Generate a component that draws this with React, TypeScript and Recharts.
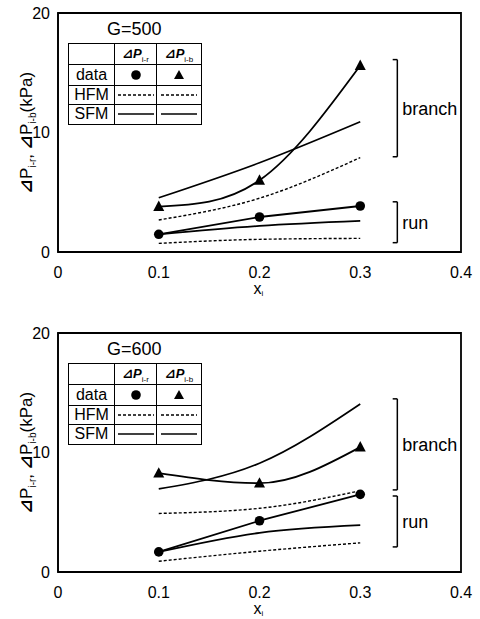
import React from "react";
import {
  LineChart,
  Line,
  XAxis,
  YAxis,
  ReferenceArea,
  ReferenceLine,
} from "recharts";

// x positions of the measured points (x_i)
const X_VALUES = [0.1, 0.2, 0.3];
const X_TICKS = [0, 0.1, 0.2, 0.3, 0.4];
const Y_TICKS = [0, 10, 20];

// G=500
const g500RunData = [1.48, 2.93, 3.85];
const g500BranchData = [3.8, 6.0, 15.6];
const g500RunHFM = [0.72, 1.06, 1.14];
const g500BranchHFM = [2.68, 4.5, 7.9];
const g500RunSFM = [1.48, 2.18, 2.6];
const g500BranchSFM = [4.54, 7.47, 10.9];
const g500BranchBracket = [7.97, 16.1];
const g500RunBracket = [0.78, 4.2];

// G=600
const g600RunData = [1.68, 4.29, 6.5];
const g600BranchData = [8.27, 7.43, 10.45];
const g600RunHFM = [0.9, 1.74, 2.44];
const g600BranchHFM = [4.9, 5.33, 6.8];
const g600RunSFM = [1.68, 3.28, 3.92];
const g600BranchSFM = [6.95, 9.1, 14.06];
const g600BranchBracket = [6.87, 14.49];
const g600RunBracket = [2.1, 6.36];

const BRACKET_X = 0.3368;
const BRACKET_END_X = 0.3322;

const FONT = "'Liberation Sans', Arial, sans-serif";
const DELTA = "\u22BF";

const toPoints = (ys: number[]) => X_VALUES.map((x, i) => ({ x, y: ys[i] }));

const CircleDot = (props: any) => {
  const { cx, cy } = props;
  if (cx == null || cy == null) return null;
  return <circle cx={cx} cy={cy} r={4.8} fill="#000" />;
};

const TriangleDot = (props: any) => {
  const { cx, cy } = props;
  if (cx == null || cy == null) return null;
  const s = 5.5;
  return (
    <polygon
      points={`${cx},${cy - s - 0.5} ${cx - s},${cy + s * 0.8} ${cx + s},${cy + s * 0.8}`}
      fill="#000"
    />
  );
};

const YLabel = (props: any) => {
  const vb = props.viewBox || {};
  const x = 32;
  const y = (vb.y ?? 13) + (vb.height ?? 239) / 2;
  return (
    <text
      x={x}
      y={y}
      transform={`rotate(-90, ${x}, ${y})`}
      textAnchor="middle"
      fontFamily={FONT}
      fontSize={17}
      fill="#000"
    >
      <tspan fontFamily="'DejaVu Sans'" fontWeight="bold">{DELTA}</tspan>
      <tspan>P</tspan>
      <tspan fontSize={10} dy={4}>i-r</tspan>
      <tspan dy={-4}>,  </tspan>
      <tspan fontFamily="'DejaVu Sans'" fontWeight="bold">{DELTA}</tspan>
      <tspan>P</tspan>
      <tspan fontSize={10} dy={4}>i-b</tspan>
      <tspan dy={-4}>(kPa)</tspan>
    </text>
  );
};

const XLabel = (props: any) => {
  const vb = props.viewBox || {};
  const x = (vb.x ?? 58) + (vb.width ?? 403) / 2 - 6;
  const y = 294;
  return (
    <text x={x} y={y} fontFamily={FONT} fontSize={16} fill="#000">
      x<tspan fontSize={8} dy={2}>i</tspan>
    </text>
  );
};

const HeaderCell = ({ sub }: { sub: string }) => (
  <span style={{ fontSize: 13, fontWeight: "bold" }}>
    <span style={{ fontFamily: "'DejaVu Sans'" }}>{DELTA}</span>
    <span style={{ fontStyle: "italic" }}>P</span>
    <sub style={{ fontSize: 8, fontWeight: "normal" }}>{sub}</sub>
  </span>
);

const LineSample = ({ dashed }: { dashed: boolean }) => (
  <svg width={36} height={6} style={{ display: "block", margin: "0 auto" }}>
    <line
      x1={0}
      y1={3}
      x2={36}
      y2={3}
      stroke="#000"
      strokeWidth={dashed ? 1.3 : 1.6}
      strokeDasharray={dashed ? "3 2" : undefined}
    />
  </svg>
);

const LegendTable = ({ title }: { title: string }) => {
  const cell: React.CSSProperties = {
    border: "1.5px solid #000",
    padding: 0,
    textAlign: "center",
    verticalAlign: "middle",
  };
  const label: React.CSSProperties = { ...cell, fontSize: 16 };
  return (
    <div style={{ position: "absolute", left: 68, top: 18, fontFamily: FONT }}>
      <div style={{ fontSize: 18, marginLeft: 39, lineHeight: "22px", height: 25 }}>{title}</div>
      <table style={{ borderCollapse: "collapse", tableLayout: "fixed" }}>
        <colgroup>
          <col style={{ width: 46 }} />
          <col style={{ width: 42 }} />
          <col style={{ width: 45 }} />
        </colgroup>
        <tbody>
          <tr style={{ height: 19 }}>
            <td style={cell}></td>
            <td style={cell}><HeaderCell sub="i-r" /></td>
            <td style={cell}><HeaderCell sub="i-b" /></td>
          </tr>
          <tr style={{ height: 21 }}>
            <td style={label}>data</td>
            <td style={cell}>
              <svg width={12} height={12} style={{ display: "block", margin: "0 auto" }}>
                <circle cx={6} cy={6} r={4.8} fill="#000" />
              </svg>
            </td>
            <td style={cell}>
              <svg width={12} height={12} style={{ display: "block", margin: "0 auto" }}>
                <polygon points="6,1 1,10 11,10" fill="#000" />
              </svg>
            </td>
          </tr>
          <tr style={{ height: 19 }}>
            <td style={label}>HFM</td>
            <td style={cell}><LineSample dashed /></td>
            <td style={cell}><LineSample dashed /></td>
          </tr>
          <tr style={{ height: 20 }}>
            <td style={label}>SFM</td>
            <td style={cell}><LineSample dashed={false} /></td>
            <td style={cell}><LineSample dashed={false} /></td>
          </tr>
        </tbody>
      </table>
    </div>
  );
};

interface PanelProps {
  title: string;
  top: number;
  runData: number[];
  branchData: number[];
  runHFM: number[];
  branchHFM: number[];
  runSFM: number[];
  branchSFM: number[];
  branchBracket: number[];
  runBracket: number[];
  branchCurve: "natural" | "monotone";
}

const Bracket = (range: number[], text: string) => [
  <ReferenceLine
    key={`${text}-v`}
    segment={[
      { x: BRACKET_X, y: range[0] },
      { x: BRACKET_X, y: range[1] },
    ]}
    stroke="#000"
    strokeWidth={1.5}
    label={{ value: text, position: "right", fill: "#000", fontSize: 18, fontFamily: FONT, offset: 5 }}
  />,
  <ReferenceLine
    key={`${text}-t`}
    segment={[
      { x: BRACKET_END_X, y: range[1] },
      { x: BRACKET_X, y: range[1] },
    ]}
    stroke="#000"
    strokeWidth={1.5}
  />,
  <ReferenceLine
    key={`${text}-b`}
    segment={[
      { x: BRACKET_END_X, y: range[0] },
      { x: BRACKET_X, y: range[0] },
    ]}
    stroke="#000"
    strokeWidth={1.5}
  />,
];

function Panel(p: PanelProps) {
  const tick = { fontSize: 16, fill: "#000", fontFamily: FONT };
  return (
    <div style={{ position: "absolute", left: 0, top: p.top, width: 480, height: 300 }}>
      <LineChart width={480} height={300} margin={{ top: 13, right: 19, bottom: 0, left: 0 }}>
        <XAxis
          dataKey="x"
          type="number"
          domain={[0, 0.4]}
          ticks={X_TICKS}
          tickFormatter={(v: number) => (v === 0 ? "0" : v.toFixed(1))}
          tick={tick}
          tickLine={false}
          tickSize={0}
          tickMargin={15}
          height={48}
          axisLine={{ stroke: "#000", strokeWidth: 1.5 }}
          allowDataOverflow
          label={<XLabel />}
        />
        <YAxis
          type="number"
          domain={[0, 20]}
          ticks={Y_TICKS}
          tick={tick}
          tickLine={false}
          tickSize={0}
          tickMargin={8}
          width={58}
          axisLine={{ stroke: "#000", strokeWidth: 1.5 }}
          allowDataOverflow
          label={<YLabel />}
        />
        <ReferenceArea x1={0} x2={0.4} y1={0} y2={20} fill="none" stroke="#000" strokeWidth={1.8} />
        {Bracket(p.branchBracket, "branch")}
        {Bracket(p.runBracket, "run")}
        <Line data={toPoints(p.runHFM)} dataKey="y" type="monotone" stroke="#000" strokeWidth={1.4} strokeDasharray="3 2" dot={false} isAnimationActive={false} />
        <Line data={toPoints(p.branchHFM)} dataKey="y" type="monotone" stroke="#000" strokeWidth={1.4} strokeDasharray="3 2" dot={false} isAnimationActive={false} />
        <Line data={toPoints(p.runSFM)} dataKey="y" type="monotone" stroke="#000" strokeWidth={1.7} dot={false} isAnimationActive={false} />
        <Line data={toPoints(p.branchSFM)} dataKey="y" type="monotone" stroke="#000" strokeWidth={1.7} dot={false} isAnimationActive={false} />
        <Line data={toPoints(p.runData)} dataKey="y" type="linear" stroke="#000" strokeWidth={1.8} dot={<CircleDot />} isAnimationActive={false} />
        <Line data={toPoints(p.branchData)} dataKey="y" type={p.branchCurve} stroke="#000" strokeWidth={1.8} dot={<TriangleDot />} isAnimationActive={false} />
      </LineChart>
      <LegendTable title={p.title} />
    </div>
  );
}

export default function App() {
  return (
    <div
      style={{
        position: "absolute",
        left: 0,
        top: 0,
        width: 480,
        height: 619,
        background: "#fff",
        overflow: "hidden",
      }}
    >
      <Panel
        title="G=500"
        top={0}
        runData={g500RunData}
        branchData={g500BranchData}
        runHFM={g500RunHFM}
        branchHFM={g500BranchHFM}
        runSFM={g500RunSFM}
        branchSFM={g500BranchSFM}
        branchBracket={g500BranchBracket}
        runBracket={g500RunBracket}
        branchCurve="natural"
      />
      <Panel
        title="G=600"
        top={320}
        runData={g600RunData}
        branchData={g600BranchData}
        runHFM={g600RunHFM}
        branchHFM={g600BranchHFM}
        runSFM={g600RunSFM}
        branchSFM={g600BranchSFM}
        branchBracket={g600BranchBracket}
        runBracket={g600RunBracket}
        branchCurve="monotone"
      />
    </div>
  );
}
